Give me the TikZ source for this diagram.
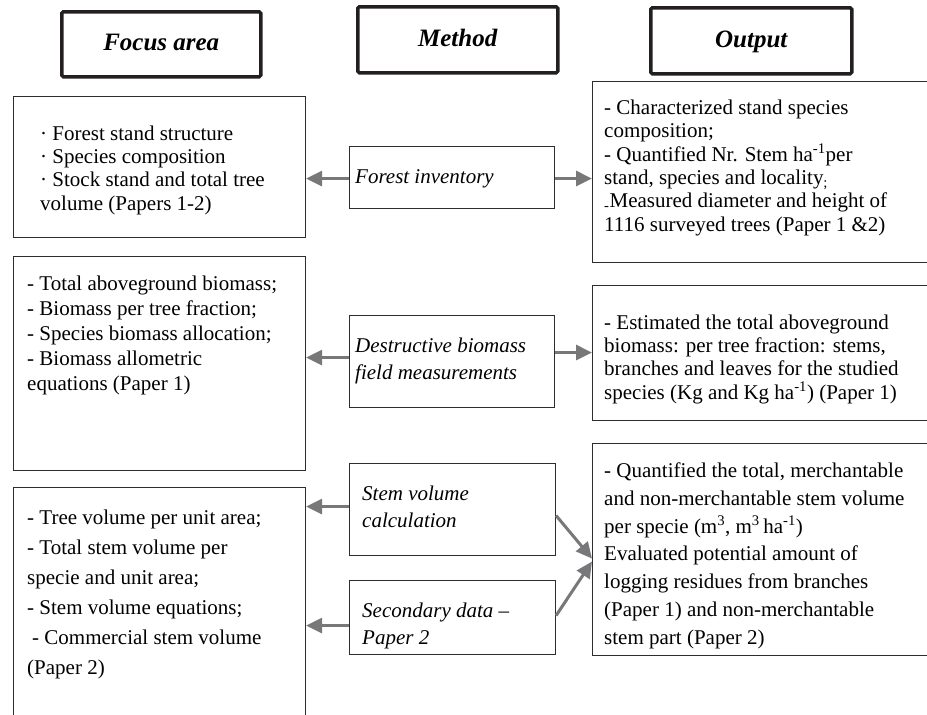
\documentclass[tikz,border=0pt]{standalone}
\usepackage{fontspec}
\setmainfont{Liberation Serif}
\usetikzlibrary{arrows.meta,calc}
\definecolor{arrowgray}{RGB}{120,120,122}
\definecolor{boxline}{RGB}{45,45,45}
\definecolor{headline}{RGB}{35,31,32}
\begin{document}
\begin{tikzpicture}[x=1pt,y=-1pt,
  headbox/.style={draw=headline,line width=3.5pt,rounded corners=1.5pt,anchor=north west,inner sep=0pt,
    text height=17pt,text depth=4pt,
    font=\fontsize{25}{28}\selectfont\bfseries\itshape},
  box/.style={draw=boxline,line width=1.1pt,anchor=north west,inner sep=0pt},
  txt/.style={anchor=north west,inner sep=0pt,align=left,text=black},
  conn/.style={draw=arrowgray,line width=3pt,-{Triangle[length=16pt,width=15pt]}}
]
\useasboundingbox (0,0) rectangle (927,715);
\clip (0,0) rectangle (927,715);
\fill[white] (0,0) rectangle (927,715);

% headers
\node[headbox,minimum width=199pt,minimum height=65pt] (hf) at (60,10) {Focus area};
\node[headbox,minimum width=200pt,minimum height=66pt] (hm) at (356,5) {Method};
\node[headbox,minimum width=201pt,minimum height=66pt] (ho) at (649,6) {Output};

% left column boxes
\node[box,minimum width=292pt,minimum height=141pt] (l1) at (13,96) {};
\node[box,minimum width=292pt,minimum height=214pt] (l2) at (13,256) {};
\node[box,minimum width=292pt,minimum height=260pt] (l3) at (13,487) {};

% method boxes
\node[box,minimum width=205pt,minimum height=62pt] (m1) at (349,146) {};
\node[box,minimum width=205pt,minimum height=92pt] (m2) at (349,315) {};
\node[box,minimum width=206pt,minimum height=92pt] (m3) at (349,463) {};
\node[box,minimum width=206pt,minimum height=74pt] (m4) at (349,580) {};

% output boxes
\node[box,minimum width=345pt,minimum height=181pt] (o1) at (592,81) {};
\node[box,minimum width=345pt,minimum height=135pt] (o2) at (592,285) {};
\node[box,minimum width=345pt,minimum height=212pt] (o3) at (592,443) {};

% texts
\node[txt,font=\fontsize{21}{23.3}\selectfont] (l1t) at (40,125.5)
 {· Forest stand structure\\· Species composition\\· Stock stand and total tree\\volume (Papers 1-2)};
\node[txt,font=\fontsize{21}{25}\selectfont] (l2t) at (27,275.5)
 {- Total aboveground biomass;\\- Biomass per tree fraction;\\- Species biomass allocation;\\- Biomass allometric\\equations (Paper 1)};
\node[txt,font=\fontsize{21}{30}\selectfont] (l3t) at (27,509.5)
 {- Tree volume per unit area;\\- Total stem volume per\\specie and unit area;\\- Stem volume equations;\\\hspace*{5pt}- Commercial stem volume\\(Paper 2)};

\node[txt,font=\fontsize{21}{27}\selectfont\itshape] (m1t) at (355,169.5) {Forest inventory};
\node[txt,font=\fontsize{21}{27}\selectfont\itshape] (m2t) at (355,337.5) {Destructive biomass\\field measurements};
\node[txt,font=\fontsize{21}{27}\selectfont\itshape] (m3t) at (362,485.5) {Stem volume\\calculation};
\node[txt,font=\fontsize{21}{27}\selectfont\itshape] (m4t) at (362,602.5) {Secondary data –\\Paper 2};

\node[txt,font=\fontsize{21}{23.4}\selectfont] (o1t) at (604,99.5)
 {- Characterized stand species\\composition;\\- Quantified Nr. Stem ha\textsuperscript{-1}per\\stand, species and locality\textsubscript{;}\\\textsubscript{-}Measured diameter and height of\\1116 surveyed trees (Paper 1 \&2)};
\node[txt,font=\fontsize{21}{23.3}\selectfont] (o2t) at (604,314.5)
 {- Estimated the total aboveground\\biomass: per tree fraction: stems,\\branches and leaves for the studied\\species (Kg and Kg ha\textsuperscript{-1}) (Paper 1)};
\node[txt,font=\fontsize{21}{27.8}\selectfont] (o3t) at (604,462.5)
 {- Quantified the total, merchantable\\and non-merchantable stem volume\\per specie (m\textsuperscript{3}, m\textsuperscript{3}\,ha\textsuperscript{-1})\\Evaluated potential amount of\\logging residues from branches\\(Paper 1) and non-merchantable\\stem part (Paper 2)};

% connectors
\coordinate (a1) at ([yshift=-1pt]m1.west);
\coordinate (b1) at ([yshift=-1pt]m1.east);
\draw[conn] (a1) -- (a1 -| l1.east);
\draw[conn] (b1) -- (b1 -| o1.west);

\coordinate (a2) at ([yshift=4pt]m2.west);
\coordinate (b2) at ([yshift=9pt]m2.east);
\draw[conn] (a2) -- (a2 -| l2.east);
\draw[conn] (b2) -- (b2 -| o2.west);

\coordinate (a3) at ([yshift=3pt]m3.west);
\draw[conn] (a3) -- (a3 -| l3.east);
\draw[conn] ([yshift=-6pt]m3.east) -- ([yshift=-9pt]o3.west);

\coordinate (a4) at ([yshift=-8pt]m4.west);
\draw[conn] (a4) -- (a4 -| l3.east);
\draw[conn] ([yshift=2pt]m4.east) -- ([yshift=-12pt]o3.west);
\end{tikzpicture}
\end{document}
